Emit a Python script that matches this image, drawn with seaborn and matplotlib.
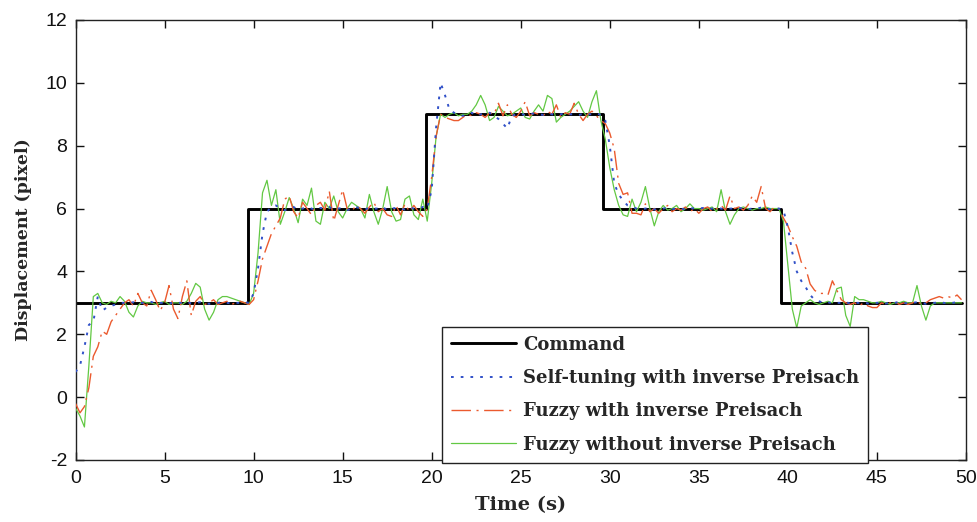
import numpy as np
import pandas as pd
import matplotlib
matplotlib.use("Agg")
import matplotlib.pyplot as plt
import seaborn as sns
from matplotlib.lines import Line2D

sns.set_style("ticks")
plt.rcParams['font.family'] = ['Liberation Sans', 'DejaVu Sans']

# ---------------- data ----------------
time_s = np.arange(0, 49.76, 0.25)

cmd_t = [0, 9.7, 9.7, 19.7, 19.7, 29.6, 29.6, 39.6, 39.6, 49.75]
cmd_y = [3, 3, 6, 6, 9, 9, 6, 6, 3, 3]

self_tuning = [
    0.8, 1.0, 1.6, 2.3, 2.4, 3.2, 2.75, 2.85, 2.9, 2.95, 3.0, 3.0, 3.0, 3.02, 2.98, 3.0, 3.0, 3.03, 2.98, 3.0,
    3.0, 2.97, 3.02, 3.0, 3.0, 3.03, 2.98, 3.0, 3.02, 3.0, 2.97, 3.0, 3.0, 3.02, 3.0, 2.98, 3.0, 3.0, 3.02, 3.0,
    3.3, 4.1, 5.2, 5.9, 6.05, 6.1, 6.0, 5.95, 6.0, 6.05, 5.95, 6.0, 6.05, 6.0, 5.95, 6.02, 6.0, 6.05, 5.97, 6.0,
    6.02, 5.95, 6.0, 6.05, 6.0, 5.97, 6.03, 6.0, 6.0, 6.05, 5.95, 6.0, 6.02, 6.0, 5.97, 6.03, 6.0, 6.0, 6.05, 6.0,
    6.6, 8.6, 10.0, 9.6, 9.15, 9.05, 9.0, 8.95, 9.0, 9.05, 8.95, 9.0, 9.0, 9.05, 8.95, 8.85, 8.7, 8.55, 8.95, 9.0,
    9.02, 8.97, 9.0, 9.03, 9.0, 8.98, 9.02, 9.0, 8.97, 9.0, 9.03, 9.0, 9.0, 8.97, 9.02, 9.0, 9.0, 9.03, 8.98, 8.8,
    8.0, 6.8, 6.45, 6.25, 6.1, 6.05, 6.0, 5.98, 6.0, 6.02, 5.97, 6.0, 6.0, 6.03, 5.98, 6.0, 6.0, 5.97, 6.02, 6.0,
    6.0, 6.02, 5.98, 6.0, 6.03, 6.0, 5.97, 6.0, 6.0, 6.02, 6.0, 5.98, 6.0, 6.0, 6.03, 6.0, 5.98, 6.0, 6.0, 5.95,
    5.4, 4.6, 4.0, 3.7, 3.5, 3.25, 3.1, 3.05, 3.0, 3.02, 2.98, 3.0, 3.0, 3.03, 2.97, 3.0, 3.0, 3.02, 2.98, 3.0,
    3.0, 3.02, 2.98, 3.0, 3.0, 3.03, 3.0, 2.98, 3.0, 3.02, 3.0, 2.97, 3.0, 3.0, 3.03, 3.0, 2.98, 3.0, 3.02, 3.0,
]

fuzzy_with = [
    -0.2, -0.5, -0.3, 0.3, 1.3, 1.6, 2.1, 2.0, 2.4, 2.6, 2.8, 3.0, 3.1, 2.9, 3.3, 3.0, 2.9, 3.4, 3.1, 2.75,
    3.0, 3.55, 2.8, 2.5, 3.2, 3.7, 2.6, 3.05, 3.2, 2.95, 3.0, 3.1, 2.95, 3.0, 3.05, 2.95, 3.0, 3.05, 3.0, 2.95,
    3.1, 3.7, 4.4, 4.8, 5.2, 5.45, 5.7, 6.3, 6.4, 5.9, 5.7, 6.2, 6.0, 5.8, 6.1, 6.2, 5.95, 6.55, 5.6, 6.1,
    6.6, 6.0, 5.9, 6.1, 6.0, 5.85, 6.05, 6.2, 5.9, 6.0, 5.8, 5.75, 6.1, 5.8, 6.15, 5.9, 6.1, 5.9, 5.75, 6.0,
    7.0, 8.3, 9.0, 8.9, 8.85, 8.8, 8.8, 8.9, 9.0, 8.95, 9.05, 9.0, 8.9, 9.05, 9.0, 9.35, 8.95, 9.3, 9.0, 8.9,
    9.1, 9.4, 8.95, 9.05, 9.0, 8.95, 9.1, 9.0, 9.3, 8.9, 9.05, 9.0, 9.35, 9.0, 8.8, 9.0, 9.1, 8.95, 8.8, 8.7,
    8.4, 7.9, 6.8, 6.45, 6.5, 5.85, 5.85, 5.8, 6.15, 5.9, 6.0, 5.85, 6.0, 6.1, 5.9, 6.0, 5.95, 6.05, 5.9, 6.0,
    5.85, 6.0, 6.05, 5.9, 6.0, 6.1, 5.95, 6.4, 6.0, 6.05, 5.95, 6.1, 6.4, 6.2, 6.7, 6.0, 5.9, 6.05, 6.0, 5.7,
    5.45, 5.1, 4.8, 4.3, 4.1, 3.6, 3.4, 3.3, 3.3, 3.25, 3.7, 3.4, 3.1, 3.0, 2.95, 3.0, 2.9, 3.0, 2.9, 2.85,
    2.85, 3.0, 2.95, 3.0, 3.05, 2.95, 3.0, 2.95, 3.0, 3.05, 2.95, 3.0, 3.1, 3.15, 3.2, 3.15, 3.2, 3.15, 3.25, 3.1,
]

fuzzy_without = [
    -0.35, -0.6, -0.95, 1.0, 3.2, 3.3, 3.0, 2.95, 3.05, 3.0, 3.2, 3.05, 2.7, 2.55, 2.9, 3.05, 3.0, 3.0, 2.95, 3.0,
    3.05, 2.95, 3.0, 3.0, 2.95, 3.05, 3.3, 3.62, 3.5, 2.8, 2.45, 2.7, 3.1, 3.2, 3.2, 3.15, 3.1, 3.05, 3.0, 2.95,
    3.3, 4.6, 6.5, 6.9, 6.1, 6.6, 5.5, 5.9, 6.35, 6.0, 5.55, 6.3, 6.1, 6.65, 5.6, 5.5, 6.2, 6.0, 6.4, 5.9,
    5.7, 6.0, 6.2, 6.1, 6.0, 5.7, 6.45, 5.9, 5.5, 6.0, 6.7, 5.9, 5.6, 5.65, 6.3, 6.4, 5.8, 5.65, 6.3, 5.6,
    6.8, 8.3, 9.0, 8.9, 9.0, 9.05, 8.95, 9.0, 9.0, 9.1, 9.3, 9.6, 9.3, 8.8, 8.9, 9.25, 9.1, 8.95, 9.0, 9.1,
    9.2, 8.9, 8.85, 9.1, 9.3, 9.1, 9.6, 9.5, 8.75, 8.9, 9.0, 9.1, 9.25, 9.4, 9.1, 8.9, 9.4, 9.75, 8.8, 8.2,
    7.3, 6.6, 6.1, 5.8, 5.75, 6.3, 5.9, 6.2, 6.7, 6.0, 5.45, 5.9, 6.1, 5.95, 6.0, 6.1, 5.9, 6.0, 6.15, 6.0,
    6.0, 5.95, 6.0, 6.05, 5.9, 6.6, 5.9, 5.5, 5.8, 6.0, 6.05, 6.0, 5.95, 6.0, 6.0, 6.05, 6.0, 6.0, 6.0, 5.6,
    4.2, 2.8, 2.2, 2.9, 3.0, 3.1, 3.0, 2.95, 3.0, 3.05, 3.0, 3.45, 3.5, 2.6, 2.25, 3.2, 3.1, 3.1, 3.05, 3.0,
    3.0, 3.05, 3.0, 2.95, 3.0, 3.0, 3.05, 3.0, 3.0, 3.55, 2.9, 2.45, 2.9, 3.0, 3.0, 3.0, 3.0, 3.0, 3.0, 3.0,
]

labels = ["Command", "Self-tuning with inverse Preisach",
          "Fuzzy with inverse Preisach", "Fuzzy without inverse Preisach"]
x_ticks = [0, 5, 10, 15, 20, 25, 30, 35, 40, 45, 50]
y_ticks = [-2, 0, 2, 4, 6, 8, 10, 12]

# ---------------- figure ----------------
c_cmd = "#000000"
c_blue = "#3050C8"
c_orange = "#EB5A2E"
c_green = "#62C843"

fig = plt.figure(figsize=(9.77, 5.22), dpi=100)
ax = fig.add_axes([0.0773, 0.1188, 0.9114, 0.8429])

ls_blue = (0, (1.4, 3.6))
ls_orange = (0, (14, 4, 1.5, 4))

sns.lineplot(x=cmd_t, y=cmd_y, ax=ax, color=c_cmd, lw=2.1, estimator=None,
             sort=False, zorder=2)
sns.lineplot(x=time_s, y=fuzzy_without, ax=ax, color=c_green, lw=0.9,
             estimator=None, zorder=3)
sns.lineplot(x=time_s, y=fuzzy_with, ax=ax, color=c_orange, lw=1.0,
             linestyle=ls_orange, estimator=None, zorder=4)
sns.lineplot(x=time_s, y=self_tuning, ax=ax, color=c_blue, lw=1.4,
             linestyle=ls_blue, estimator=None, zorder=5)

ax.set_xlim(0, 50)
ax.set_ylim(-2, 12)
ax.set_xticks(x_ticks)
ax.set_yticks(y_ticks)
ax.set_xticklabels([str(v) for v in x_ticks])
ax.set_yticklabels([str(v) for v in y_ticks])
ax.tick_params(direction="in", length=6, width=1, top=True, right=True,
               labelsize=14, colors="#111111")
ax.tick_params(axis="y", pad=6)
ax.tick_params(axis="x", pad=7)
for s in ax.spines.values():
    s.set_visible(True)
    s.set_linewidth(1.0)
    s.set_color("#222222")

serif = ["DejaVu Serif"]
ax.set_xlabel("Time (s)", fontsize=14, fontweight="bold", family=serif, labelpad=7)
ax.set_ylabel("Displacement (pixel)", fontsize=12.5, fontweight="bold", family=serif, labelpad=10)

handles = [
    Line2D([], [], color=c_cmd, lw=2.1),
    Line2D([], [], color=c_blue, lw=1.4, linestyle=ls_blue),
    Line2D([], [], color=c_orange, lw=1.0, linestyle=ls_orange),
    Line2D([], [], color=c_green, lw=0.9),
]
leg = ax.legend(handles, labels, loc="lower right", bbox_to_anchor=(0.89, -0.006),
                borderaxespad=0, fancybox=False, framealpha=1, edgecolor="#222222",
                prop={"family": serif, "weight": "bold", "size": 13},
                handlelength=3.6, handletextpad=0.4, labelspacing=0.85,
                borderpad=0.5)
leg.get_frame().set_linewidth(1.0)
leg.set_zorder(10)

fig.savefig("out.png", dpi=100, facecolor="white")
